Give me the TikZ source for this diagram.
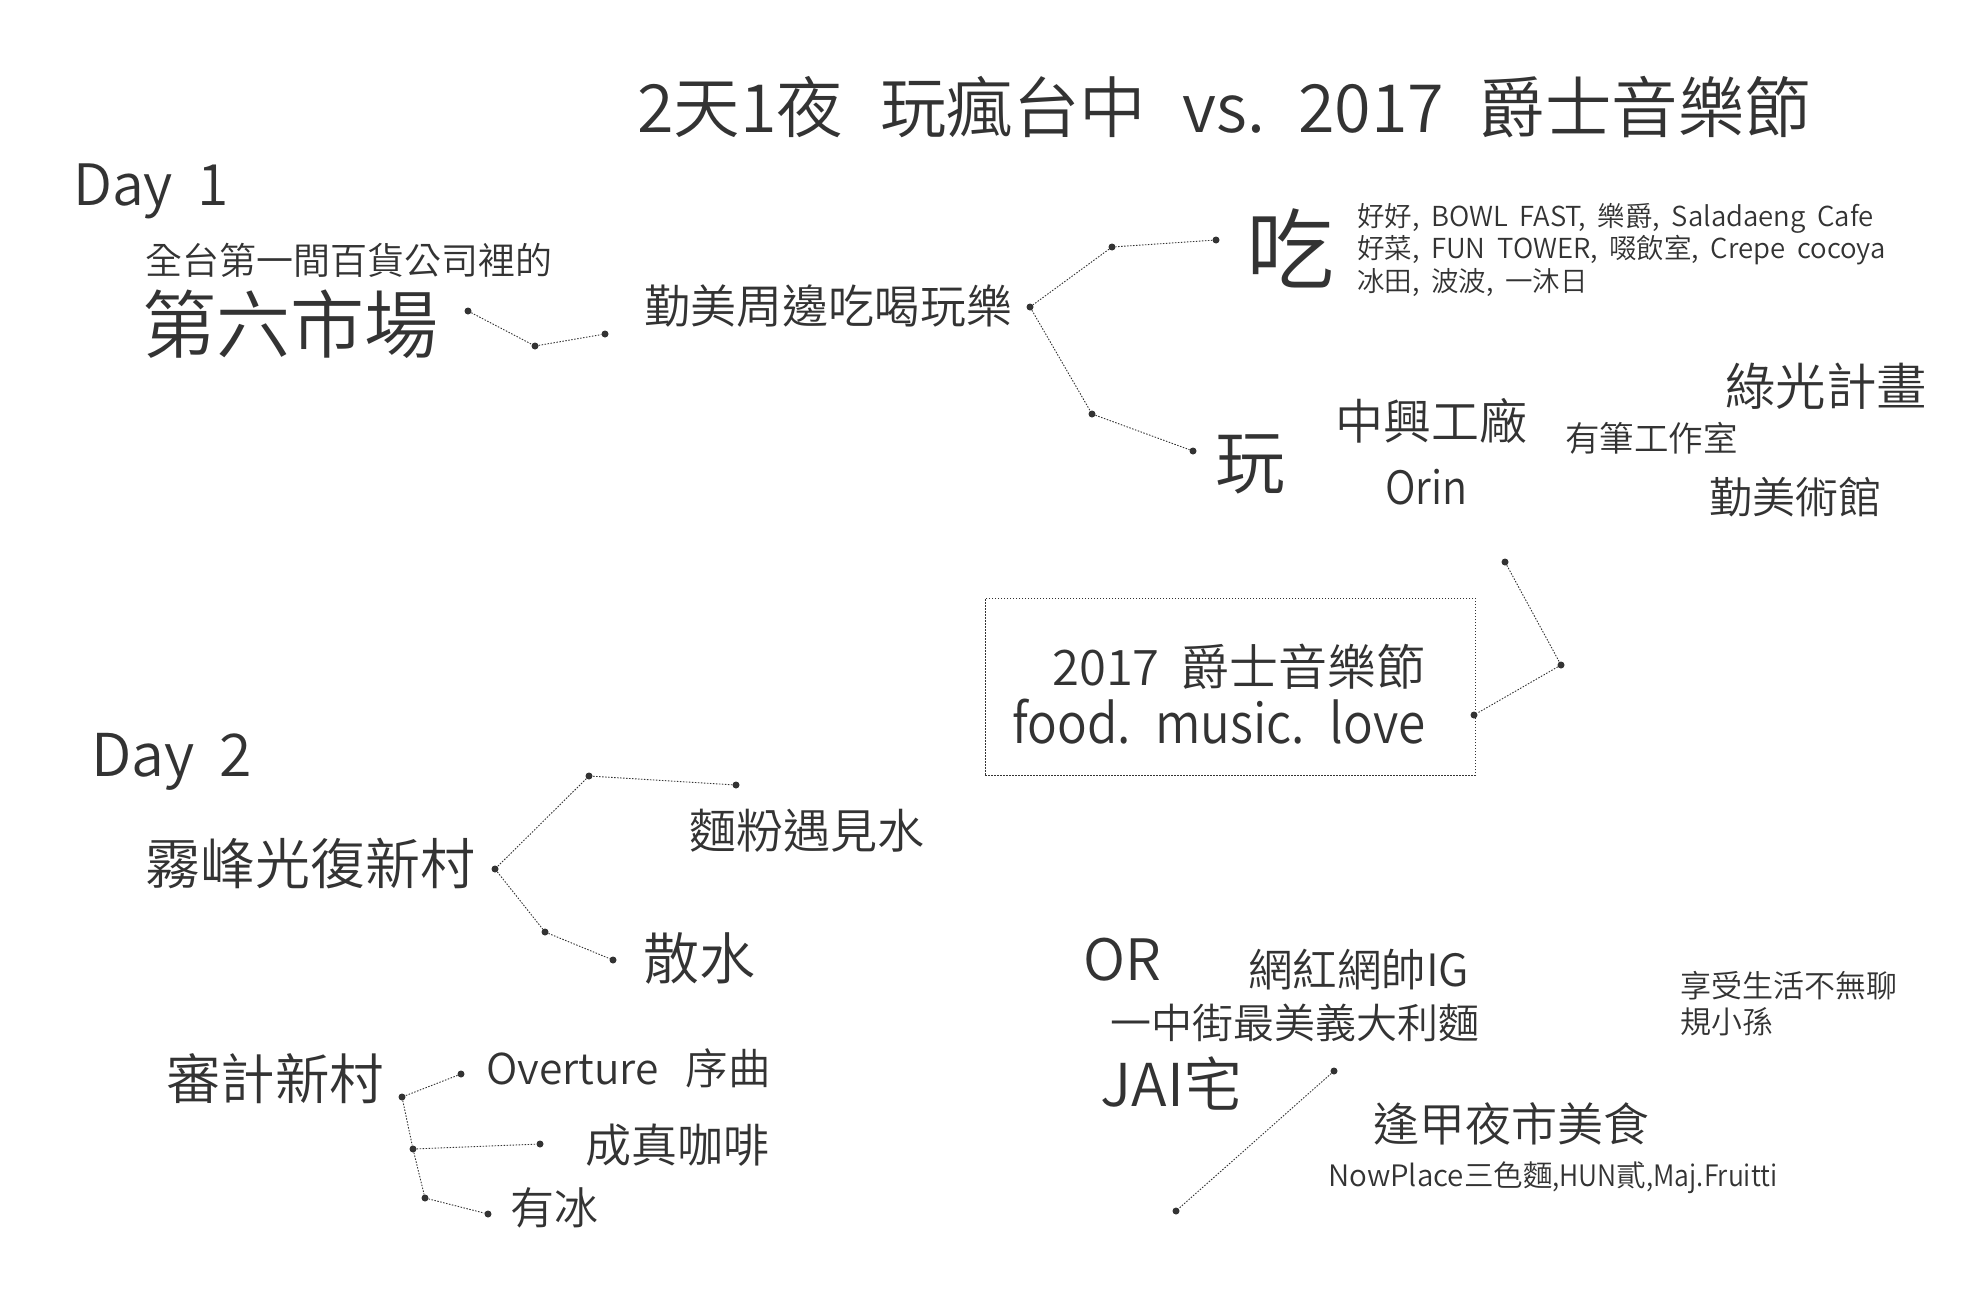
\documentclass[tikz,border=0pt]{standalone}
\usepackage{fontspec}
\setmainfont{Noto Sans CJK TC}[UprightFont=* DemiLight,WordSpace=1.9]
\newfontfamily\narrowfont{Noto Sans CJK TC}[UprightFont=* DemiLight,WordSpace=1.9,FakeStretch=0.9]
\newcommand{\nr}[1]{{\narrowfont #1}}
\usetikzlibrary{positioning}

\definecolor{ink}{HTML}{333333}
\tikzset{
  txt/.style={inner sep=0pt, anchor=west, text=ink, font=\fontsize{#1}{#1}\selectfont},
  dot/.style={circle, fill=ink, inner sep=0pt, minimum size=7pt},
  link/.style={draw=ink, dash pattern=on 1.5pt off 1.5pt, line width=0.9pt},
}

\begin{document}
\begin{tikzpicture}[x=1pt,y=-1pt]
    \useasboundingbox (0,0) rectangle (1964,1288);

    % Title
    \node[txt=66.5] (title) at (637,107) {2天1夜 \hspace{9pt}玩瘋台中 \hspace{8pt}vs. 2017 \hspace{6pt}爵士音樂節};

    % Day 1
    \node[txt=57] (dayone) at (73,191) {Day 1};
    \node[txt=37] (intro) at (145,260) {全台第一間百貨公司裡的};
    \node[txt=74] (market) at (142,324) {第六市場};
    \node[txt=46] (around) at (644,306) {勤美周邊吃喝玩樂};
    \node[txt=88] (eat) at (1246,248) {吃};
    \node[txt=27.5] (eatA) at (1357,218) {好好, BOWL FAST, 樂爵, Saladaeng Cafe};
    \node[txt=27.5] (eatB) at (1357,250) {好菜, FUN TOWER, 啜飲室, Crepe cocoya};
    \node[txt=27.5] (eatC) at (1357,283) {冰田, 波波, 一沐日};
    \node[txt=70] (play) at (1215,464) {玩};
    \node[txt=48] (factory) at (1335,421) {中興工廠};
    \node[txt=46] (orin) at (1385,487) {\nr{Orin}};
    \node[txt=34.5] (studio) at (1565,438) {有筆工作室};
    \node[txt=50.5] (green) at (1725,386) {綠光計畫};
    \node[txt=43] (museum) at (1709,497) {勤美術館};

    % Festival box
    \node[draw=ink, dash pattern=on 1.5pt off 1.5pt, line width=0.7pt, minimum width=490pt, minimum height=177pt] (fest) at (1230,686.5) {};
    \node[txt=49] (festA) at (1052,667) {2017 爵士音樂節};
    \node[txt=55] (festB) at (1012,722) {\nr{food. music. love}};

    % Day 2
    \node[txt=59] (daytwo) at (91,762) {Day 2};
    \node[txt=55] (village) at (145,864) {霧峰光復新村};
    \node[txt=47] (noodle) at (689,831) {麵粉遇見水};
    \node[txt=56] (walk) at (643,958) {散水};
    \node[txt=54.5] (audit) at (166,1079) {審計新村};
    \node[txt=42.5] (overture) at (486,1068) {Overture \hspace{9pt}序曲};
    \node[txt=46] (coffee) at (585,1145) {成真咖啡};
    \node[txt=44] (ice) at (510,1208) {有冰};

    % Other choices
    \node[txt=57] (orword) at (1083,960) {OR};
    \node[txt=44.5] (net) at (1248,970) {網紅網帥IG};
    \node[txt=41] (pasta) at (1110,1023) {一中街最美義大利麵};
    \node[txt=59] (jai) at (1100,1083) {JAI宅};
    \node[txt=46] (night) at (1373,1124) {逢甲夜市美食};
    \node[txt=29.5] (shops) at (1328,1178) {NowPlace三色麵\nr{,HUN}貳\nr{,Maj.Fruitti}};
    \node[txt=31] (enjoy) at (1680,986) {享受生活不無聊};
    \node[txt=31] (rule) at (1680,1022) {規小孫};

    % Dots
    \node[dot] (m1) at (468,311) {};
    \node[dot] (m2) at (535,346) {};
    \node[dot] (m3) at (605,334) {};
    \node[dot] (a1) at (1030,307) {};
    \node[dot] (a2) at (1112,247) {};
    \node[dot] (a3) at (1216,240) {};
    \node[dot] (a4) at (1092,414) {};
    \node[dot] (a5) at (1193,451) {};
    \node[dot] (f1) at (1505,562) {};
    \node[dot] (f2) at (1561,665) {};
    \node[dot] (f3) at (1474,715) {};
    \node[dot] (v1) at (495,869) {};
    \node[dot] (v2) at (589,776) {};
    \node[dot] (v3) at (736,785) {};
    \node[dot] (v4) at (545,932) {};
    \node[dot] (v5) at (613,960) {};
    \node[dot] (c1) at (402,1097) {};
    \node[dot] (c2) at (461,1074) {};
    \node[dot] (c3) at (413,1149) {};
    \node[dot] (c4) at (540,1144) {};
    \node[dot] (c5) at (425,1198) {};
    \node[dot] (c6) at (488,1214) {};
    \node[dot] (o1) at (1334,1071) {};
    \node[dot] (o2) at (1176,1211) {};

    % Connectors
    \draw[link] (m1) -- (m2) -- (m3);
    \draw[link] (a3) -- (a2) -- (a1) -- (a4) -- (a5);
    \draw[link] (f1) -- (f2) -- (f3);
    \draw[link] (v3) -- (v2) -- (v1) -- (v4) -- (v5);
    \draw[link] (c2) -- (c1) -- (c3) -- (c5) -- (c6);
    \draw[link] (c3) -- (c4);
    \draw[link] (o1) -- (o2);
\end{tikzpicture}
\end{document}
